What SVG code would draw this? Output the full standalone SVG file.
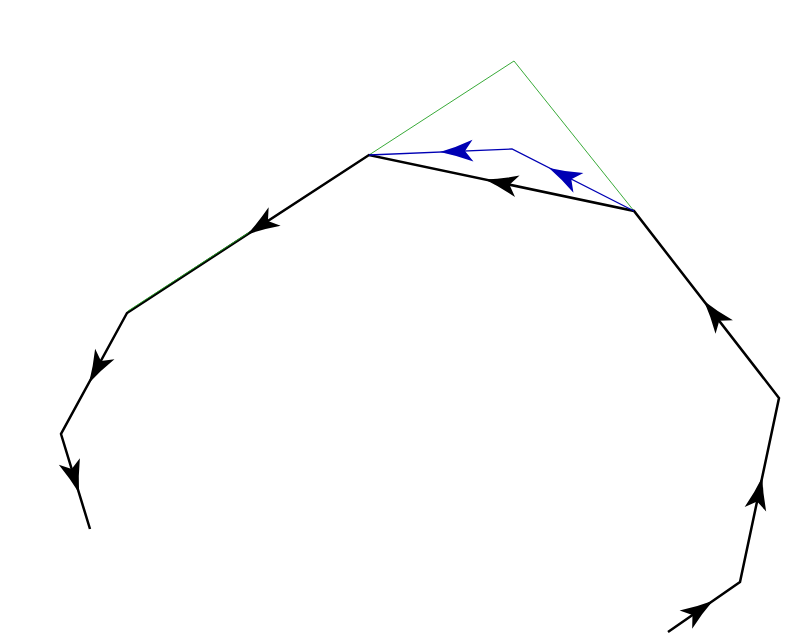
<svg xmlns="http://www.w3.org/2000/svg" width="786" height="636" viewBox="0 0 786 636">
<style>
.blk{fill:none;stroke:#000;stroke-width:2.5;stroke-linejoin:miter}
.blu{fill:none;stroke:#0000b4;stroke-width:1.3}
.grn{fill:none;stroke:#22a022;stroke-width:0.9}
.ab{fill:#000}
.au{fill:#0000b4}
</style>
<defs>
<path id="ah" d="M0,0 Q-16,-4 -33,-11 L-25,0 L-33,11 Q-16,4 0,0 Z"/>
</defs>
<rect width="786" height="636" fill="#fff"/>
<g id="connectors">
<polyline class="grn" points="369,155 514,61 634,211"/>
<polyline class="blk" points="668,632 740,582 779,398 634,211 369,155 127,313 61,434 90,529"/>
<line class="grn" x1="128" y1="311" x2="252" y2="230.5"/>
<polyline class="blu" points="634,211 512,149 369,155"/>
<g class="ab">
<use href="#ah" transform="translate(713,600.8) rotate(-34.8)"/>
<use href="#ah" transform="translate(762.3,477) rotate(-78)"/>
<use href="#ah" transform="translate(704,301) rotate(-127.8)"/>
<use href="#ah" transform="translate(485,179.5) rotate(-168.1)"/>
<use href="#ah" transform="translate(247,234.6) rotate(146.9)"/>
<use href="#ah" transform="translate(89,383) rotate(118.6)"/>
<use href="#ah" transform="translate(79,493) rotate(73)"/>
</g>
<g class="au">
<use href="#ah" transform="translate(549,168) rotate(-153.1)"/>
<use href="#ah" transform="translate(440,152) rotate(177.6)"/>
</g>
</g>
</svg>
